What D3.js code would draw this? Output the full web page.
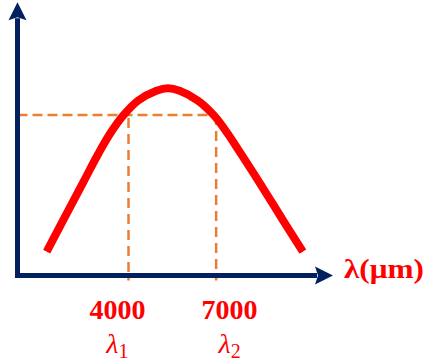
<!DOCTYPE html>
<html lang="en">
<head>
    <meta charset="UTF-8">
    <title>Spektar - λ1, λ2</title>
    <script src="https://d3js.org/d3.v7.min.js"></script>
    <style>
      body { margin: 0; background: #fff; }
      text { font-family: "Liberation Serif", "DejaVu Serif", serif; fill: #ff0000; }
    </style>
</head>
<body>
    <div id="graf"></div>

<script>
  // PODACI //
  var valneDuljine = [1198, 1765, 2490, 2962, 3361, 3816, 4329, 4957, 5354, 5750, 6379, 6933, 7405, 7692, 8430, 9284, 9968];
  var intenzitet   = [12.7, 29.6, 51.0, 64.9, 75.6, 85.4, 93.4, 98.7, 100, 98.7, 93.4, 85.4, 75.6, 68.8, 51.0, 29.6, 12.7];
  var oznake       = [4000, 7000];          // lambda1, lambda2
  var oznakeTekst  = ["4000", "7000"];
  var oznakeSimbol = ["1", "2"];
  var oznakePoz    = [3620, 7460];          // sredina teksta, u jedinicama osi x
  var razina       = 85.7;                  // visina isprekidane linije
  var osX = [200, 11000], osY = [0, 146];
  var nazivOsi = "λ(μm)";

  // DIMENZIJE //
  var sirina = 426, visina = 364;
  var x = d3.scaleLinear().domain(osX).range([17.5, 333]);
  var y = d3.scaleLinear().domain([0, 100]).range([275.5, 88.3]);

  var svg = d3.select("#graf").append("svg")
      .attr("width", sirina).attr("height", visina);

  var plava = "#002060", narancasta = "#ed7d31", crvena = "#ff0000";
  var dulj = 18, pola = 9;   // strelice

  // ISPREKIDANE LINIJE //
  var dno = y(0) + 5;
  svg.append("path")
    .attr("d", "M" + x(osX[0]) + "," + y(razina) + "H" + x(oznake[1]))
    .attr("fill", "none").attr("stroke", narancasta)
    .attr("stroke-width", 2.5).attr("stroke-dasharray", "10,5");
  svg.selectAll(".okomita").data(oznake).enter().append("path")
    .attr("class", "okomita")
    .attr("d", function(d) { return "M" + x(d) + "," + (y(razina) + (d === oznake[0] ? 3 : 0)) + "V" + dno; })
    .attr("fill", "none").attr("stroke", narancasta)
    .attr("stroke-width", 2.5).attr("stroke-dasharray", "10,6");

  // OSI //
  var x0 = x(osX[0]), y0 = y(0), xK = x(osX[1]), yK = y(osY[1]);
  svg.append("path")
    .attr("d", "M" + x0 + "," + (yK + dulj - 2) + "V" + y0 + "H" + (xK - dulj + 2))
    .attr("fill", "none").attr("stroke", plava)
    .attr("stroke-width", 5).attr("stroke-linejoin", "miter");
  svg.append("path")
    .attr("d", "M" + x0 + "," + yK + "L" + (x0 - pola) + "," + (yK + dulj) +
               "L" + x0 + "," + (yK + dulj - 3) + "L" + (x0 + pola) + "," + (yK + dulj) + "Z")
    .attr("fill", plava);
  svg.append("path")
    .attr("d", "M" + xK + "," + y0 + "L" + (xK - dulj) + "," + (y0 - pola) +
               "L" + (xK - dulj + 3) + "," + y0 + "L" + (xK - dulj) + "," + (y0 + pola) + "Z")
    .attr("fill", plava);

  // KRIVULJA //
  var tocke = valneDuljine.map(function(d, i) { return [d, intenzitet[i]]; });
  var linija = d3.line()
    .x(function(d) { return x(d[0]); })
    .y(function(d) { return y(d[1]); })
    .curve(d3.curveCatmullRom.alpha(0.5));
  svg.append("path")
    .datum(tocke)
    .attr("d", linija)
    .attr("fill", "none").attr("stroke", crvena)
    .attr("stroke-width", 8).attr("stroke-linecap", "butt");

  // OZNAKE //
  svg.selectAll(".broj").data(oznakeTekst).enter().append("text")
    .attr("class", "broj")
    .attr("x", function(d, i) { return x(oznakePoz[i]); })
    .attr("y", 318.5)
    .attr("text-anchor", "middle")
    .attr("font-size", 28).attr("font-weight", "bold")
    .text(function(d) { return d; });

  var lam = svg.selectAll(".lambda").data(oznakeSimbol).enter().append("text")
    .attr("class", "lambda")
    .attr("x", function(d, i) { return x(oznakePoz[i]); })
    .attr("y", 353)
    .attr("text-anchor", "middle");
  lam.append("tspan").attr("font-size", 28).attr("font-style", "italic").text("λ");
  lam.append("tspan").attr("font-size", 20).attr("dy", 5).text(function(d) { return d; });

  svg.append("text")
    .attr("x", 344).attr("y", 278)
    .attr("font-size", 27).attr("font-weight", "bold")
    .attr("textLength", 80).attr("lengthAdjust", "spacingAndGlyphs")
    .text(nazivOsi);
</script>
</body>
</html>
